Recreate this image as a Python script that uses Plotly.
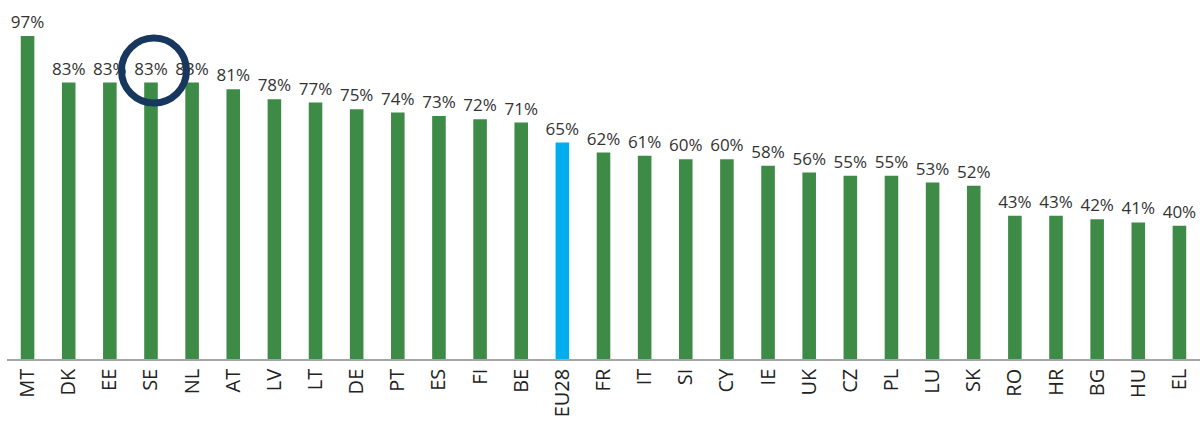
import plotly.graph_objects as go

countries = ["MT", "DK", "EE", "SE", "NL", "AT", "LV", "LT", "DE", "PT", "ES", "FI", "BE", "EU28",
             "FR", "IT", "SI", "CY", "IE", "UK", "CZ", "PL", "LU", "SK", "RO", "HR", "BG", "HU", "EL"]
values = [97, 83, 83, 83, 83, 81, 78, 77, 75, 74, 73, 72, 71, 65,
          62, 61, 60, 60, 58, 56, 55, 55, 53, 52, 43, 43, 42, 41, 40]
highlight_bar = "EU28"
circled = "SE"

GREEN = "#3e8b47"
BLUE = "#00aeef"
colors = [BLUE if c == highlight_bar else GREEN for c in countries]

fig = go.Figure(go.Bar(
    x=countries, y=values,
    marker=dict(color=colors, line=dict(width=0)),
    text=[f"{v}%" for v in values],
    textposition="outside",
    constraintext="none",
    textfont=dict(family="Open Sans", size=17, color="#333333"),
    cliponaxis=False,
))

ci = countries.index(circled)
fig.add_shape(type="circle", xref="x", yref="y",
              xsizemode="pixel", ysizemode="pixel",
              xanchor=circled, yanchor=values[ci] + 3.6,
              x0=-29.5, x1=35.5, y0=-32.5, y1=32.5,
              line=dict(color="#17375e", width=7), layer="above")

fig.update_layout(
    width=1200, height=421,
    margin=dict(l=7, r=0, t=0, b=62),
    paper_bgcolor="white", plot_bgcolor="white",
    bargap=0.67,
    showlegend=False,
    xaxis=dict(type="category", tickangle=-90, showgrid=False,
               showline=True, linecolor="#a6a6a6", linewidth=1.5,
               ticks="", tickfont=dict(family="Open Sans", size=20, color="#222222"),
               range=[-0.5, len(countries) - 0.5]),
    yaxis=dict(range=[0, 107.8], visible=False, showgrid=False),
)

fig.write_html("out.html", config={"displayModeBar": False},
               post_script="document.body.style.margin='0';")
